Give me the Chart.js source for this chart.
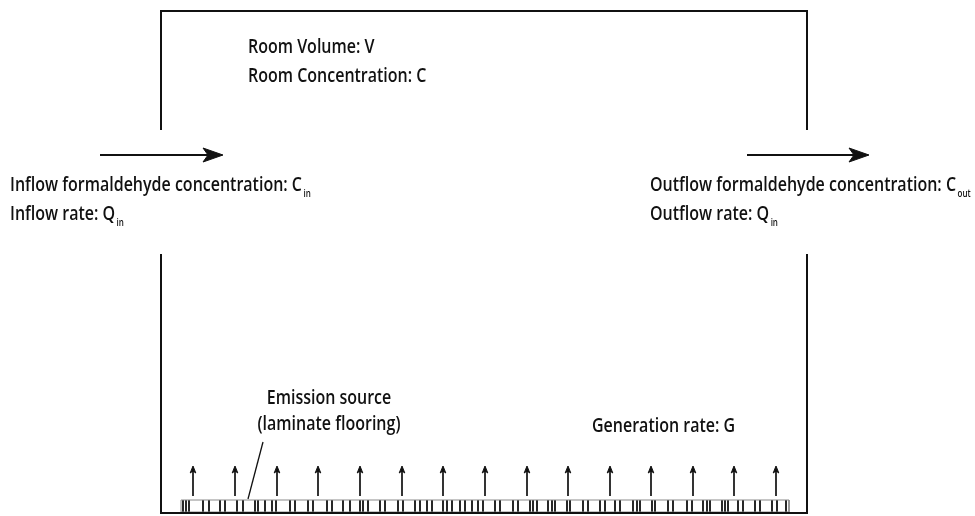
<!DOCTYPE html>
<html>
<head>
<meta charset="utf-8">
<script src="https://cdn.jsdelivr.net/npm/chart.js@4/dist/chart.umd.min.js"></script>
<style>
  html, body { margin: 0; padding: 0; background: #ffffff; }
  #wrap { width: 975px; height: 516px; }
</style>
</head>
<body>
<div id="wrap"><canvas id="c" width="975" height="516"></canvas></div>
<script>
// ---- diagram data (coordinates in the picture's own units) ----
const wallUpper = [[161, 130], [161, 11], [807, 11], [807, 130]];
const wallLower = [[161, 254], [161, 513], [807, 513], [807, 254]];
const inflowArrow = [[100, 155], [223, 155]];
const outflowArrow = [[747, 155], [869, 155]];
const sourceArrowX = [193, 235, 277, 318, 360, 402, 443, 485, 527, 568, 610, 651, 693, 734, 776];
const sourceArrowY = [496, 466];
const leaderLine = [[263, 442], [248, 499]];
const stripX = [181, 789];
const stripY = [500, 512];
const stripBars = [183, 186, 189, 203, 209, 220, 225, 237, 243, 255, 258, 265, 272, 276, 290, 295,
  308, 313, 327, 332, 343, 350, 360, 363, 368, 380, 385, 398, 403, 415, 420, 427, 432, 443, 447,
  452, 460, 465, 472, 478, 483, 495, 500, 513, 518, 530, 533, 537, 548, 552, 555, 567, 570, 583,
  588, 600, 605, 615, 620, 633, 637, 640, 652, 655, 668, 673, 687, 692, 703, 707, 710, 722, 725,
  728, 738, 743, 755, 760, 772, 777, 786];

const roomLabels = ['Room Volume: V', 'Room Concentration: C'];
const inflowLabels = ['Inflow formaldehyde concentration: C', 'Inflow rate: Q'];
const inflowSubs = ['in', 'in'];
const outflowLabels = ['Outflow formaldehyde concentration: C', 'Outflow rate: Q'];
const outflowSubs = ['out', 'in'];
const sourceLabels = ['Emission source', '(laminate flooring)'];
const generationLabel = 'Generation rate: G';

// ---- layout / style ----
const INK = '#111111';
const FONT_FAMILY = '"Open Sans", "Liberation Sans", sans-serif';
const FONT_WEIGHT = '600';
const FONT_SIZE = 20;
const SUB_SIZE = 10;
const REF_WIDTH = 292; // width of the first inflow line in the picture

const pts = arr => arr.map(p => ({ x: p[0], y: p[1] }));
function lineDs(points, width, color) {
  return { data: pts(points), showLine: true, borderColor: color || INK, borderWidth: width,
    pointRadius: 0, fill: false, tension: 0, spanGaps: false, borderCapStyle: 'butt' };
}
function headDs(tip, dir, len, half, notch) {
  const [tx, ty] = tip;
  let poly;
  if (dir === 'right') {
    poly = [[tx, ty], [tx - len, ty - half], [tx - len + notch, ty], [tx - len, ty + half], [tx, ty]];
  } else {
    poly = [[tx, ty], [tx - half, ty + len], [tx, ty + len - notch], [tx + half, ty + len], [tx, ty]];
  }
  return { data: pts(poly), showLine: true, borderColor: INK, borderWidth: 1, backgroundColor: INK,
    pointRadius: 0, fill: 'shape', tension: 0 };
}
function segmentsDs(segs, width, color) {
  const data = [];
  segs.forEach((s, i) => {
    if (i > 0) data.push({ x: s[0][0], y: null });
    data.push({ x: s[0][0], y: s[0][1] }, { x: s[1][0], y: s[1][1] });
  });
  return { data, showLine: true, borderColor: color, borderWidth: width, pointRadius: 0,
    fill: false, tension: 0, spanGaps: false, borderCapStyle: 'butt' };
}

const datasets = [];
datasets.push(lineDs(wallUpper, 2));
datasets.push(lineDs(wallLower, 2));
datasets.push(lineDs([inflowArrow[0], [inflowArrow[1][0] - 10, inflowArrow[1][1]]], 2));
datasets.push(headDs(inflowArrow[1], 'right', 20, 7, 5));
datasets.push(lineDs([outflowArrow[0], [outflowArrow[1][0] - 10, outflowArrow[1][1]]], 2));
datasets.push(headDs(outflowArrow[1], 'right', 20, 7, 5));
// strip: outline and bars
datasets.push(lineDs([[stripX[0], stripY[0]], [stripX[1], stripY[0]], [stripX[1], stripY[1]], [stripX[0], stripY[1]], [stripX[0], stripY[0]]], 1, '#8a8a8a'));
datasets.push(segmentsDs(stripBars.map(x => [[x, stripY[0]], [x, stripY[1]]]), 1.8, '#111111'));
// source arrows
datasets.push(segmentsDs(sourceArrowX.map(x => [[x, sourceArrowY[0]], [x, sourceArrowY[1] + 4]]), 1.7, INK));
sourceArrowX.forEach(x => datasets.push(headDs([x, sourceArrowY[1]], 'up', 7, 2.8, 2)));
datasets.push(lineDs(leaderLine, 1.3));

const textPlugin = {
  id: 'diagramText',
  afterDatasetsDraw(chart) {
    const { ctx, scales } = chart;
    const X = v => scales.x.getPixelForValue(v);
    const Y = v => scales.y.getPixelForValue(v);
    const font = s => FONT_WEIGHT + ' ' + s + 'px ' + FONT_FAMILY;
    ctx.save();
    ctx.fillStyle = INK;
    ctx.textBaseline = 'alphabetic';
    ctx.font = font(FONT_SIZE);
    const sx = REF_WIDTH / ctx.measureText(inflowLabels[0]).width;
    function put(text, x, y, align, sub) {
      ctx.font = font(FONT_SIZE);
      const w = ctx.measureText(text).width * sx;
      let left = x;
      if (align === 'center') left = x - w / 2;
      ctx.save();
      ctx.translate(X(left), Y(y));
      ctx.scale(sx, 1);
      ctx.textAlign = 'left';
      ctx.fillText(text, 0, 0);
      ctx.restore();
      if (sub) {
        ctx.font = font(SUB_SIZE);
        ctx.save();
        ctx.translate(X(left + w + 1.5), Y(y + 6));
        ctx.scale(sx, 1);
        ctx.fillText(sub, 0, 0);
        ctx.restore();
      }
    }
    put(roomLabels[0], 248, 53, 'left');
    put(roomLabels[1], 248, 82, 'left');
    put(inflowLabels[0], 10, 191, 'left', inflowSubs[0]);
    put(inflowLabels[1], 10, 220, 'left', inflowSubs[1]);
    put(outflowLabels[0], 650, 191, 'left', outflowSubs[0]);
    put(outflowLabels[1], 650, 220, 'left', outflowSubs[1]);
    put(sourceLabels[0], 329, 404, 'center');
    put(sourceLabels[1], 329, 430, 'center');
    put(generationLabel, 592, 432, 'left');
    ctx.restore();
  }
};

new Chart(document.getElementById('c'), {
  type: 'scatter',
  data: { datasets },
  options: {
    responsive: false,
    animation: false,
    events: [],
    layout: { padding: 0 },
    plugins: { legend: { display: false }, tooltip: { enabled: false } },
    scales: {
      x: { type: 'linear', min: 0, max: 975, display: false },
      y: { type: 'linear', min: 0, max: 516, reverse: true, display: false }
    }
  },
  plugins: [textPlugin]
});
</script>
</body>
</html>
